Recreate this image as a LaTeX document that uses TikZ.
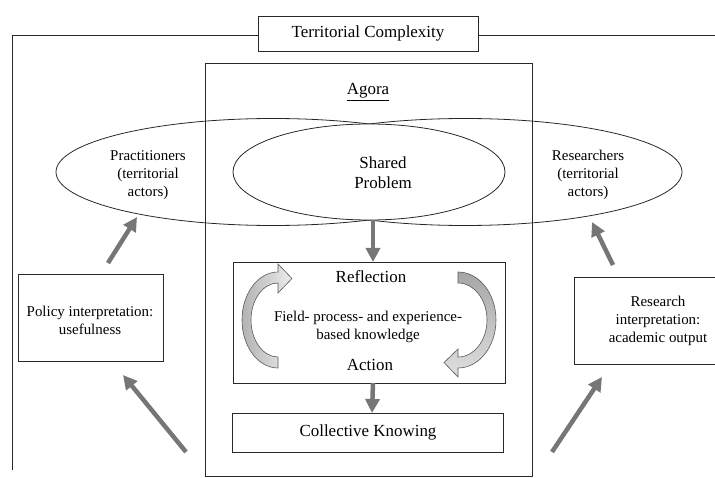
\documentclass[tikz,border=0pt]{standalone}
\usepackage{fontspec}
\setmainfont{Liberation Serif}
\usetikzlibrary{arrows.meta,shapes.geometric,calc}
\definecolor{arrowgray}{RGB}{118,118,118}
\definecolor{linec}{RGB}{40,40,40}
\begin{document}
\begin{tikzpicture}[x=1bp,y=-1bp,
  big/.style={font=\fontsize{17}{20}\selectfont},
  small/.style={font=\fontsize{15}{18}\selectfont},
  box/.style={draw=linec, line width=0.8bp, fill=white, inner sep=0pt, outer sep=0pt},
  ell/.style={draw=linec, line width=0.8bp, ellipse, inner sep=0pt, outer sep=0pt},
  garrow/.style={draw=arrowgray, line width=4.5bp, -{Triangle[length=14bp,width=14bp]}},
  curv/.style={draw=black!65, line width=0.6bp}]
\useasboundingbox (0,0) rectangle (715,478);
% outer frame
\draw[linec, line width=0.8bp] (12,470) -- (12,35) -- (720,35);
\node[box, big, minimum width=220bp, minimum height=35bp] (tc) at (368,33.5) {Territorial Complexity};
% ellipses
\node[ell, minimum width=434bp, minimum height=107bp] (pract) at (273,172) {};
\node[ell, minimum width=434bp, minimum height=107bp] (resell) at (465,172) {};
\node[ell, fill=white, minimum width=272bp, minimum height=96bp] (shared) at (369,172) {};
% agora box
\draw[linec, line width=0.8bp] (205,63) rectangle (532,476);
\node[big] (agora) at (368,92) {\underline{Agora}};
% ellipse texts
\node[small, align=center] (practt) at (148,175) {Practitioners\\(territorial\\actors)};
\node[small, align=center] (rest) at (588,175) {Researchers\\(territorial\\actors)};
\node[big, align=center] (sharedt) at (383,173) {Shared\\Problem};
% reflection box
\node[box, minimum width=272bp, minimum height=121bp] (refl) at (369,322.5) {};
\node[big] (reflt) at (371,277) {Reflection};
\node[small, align=center] (field) at (368,327) {Field- process- and experience-\\based knowledge};
\node[big] (action) at (370,365) {Action};
% curved arrows
\shade[curv, left color=gray!60, right color=gray!15]
  (278,357) -- (278,368) arc[start angle=90, end angle=270, x radius=36, y radius=48]
  -- (278,264) -- (292,278.5) -- (278,293) -- (278,283)
  arc[start angle=270, end angle=90, x radius=27, y radius=37] -- cycle;
\shade[curv, top color=gray!70, bottom color=gray!25]
  (458,283) -- (458,272) arc[start angle=-90, end angle=90, x radius=38, y radius=48]
  -- (458,377) -- (444,362.5) -- (458,349) -- (458,357)
  arc[start angle=90, end angle=-90, x radius=29, y radius=37] -- cycle;
% collective knowing
\node[box, big, minimum width=271bp, minimum height=39bp] (ck) at (368,432.5) {Collective Knowing};
% side boxes
\node[box, minimum width=145bp, minimum height=87bp] (pol) at (90.5,317.5) {};
\node[small, align=center] (polt) at (90,320) {Policy interpretation:\\usefulness};
\node[box, minimum width=168bp, minimum height=87bp] (rb) at (658,320.5) {};
\node[small, align=center] (rbt) at (658,321) {Research\\interpretation:\\academic output};
% gray arrows
\coordinate (a1s) at (108,263); \coordinate (a1e) at (137,217);
\coordinate (a2s) at (186,452); \coordinate (a2e) at (123,375);
\coordinate (a3s) at (613,265); \coordinate (a3e) at (592,222);
\coordinate (a4s) at (552,452); \coordinate (a4e) at (602,377);
\draw[garrow] (a1s) -- (a1e);
\draw[garrow] (a2s) -- (a2e);
\draw[garrow] (a3s) -- (a3e);
\draw[garrow] (a4s) -- (a4e);
\draw[garrow] ($(shared.south)+(4,0)$) -- ($(refl.north)+(4,0)$);
\draw[garrow] ($(refl.south)+(4,0)$) -- ($(ck.north)+(4,0)$);
\end{tikzpicture}
\end{document}
